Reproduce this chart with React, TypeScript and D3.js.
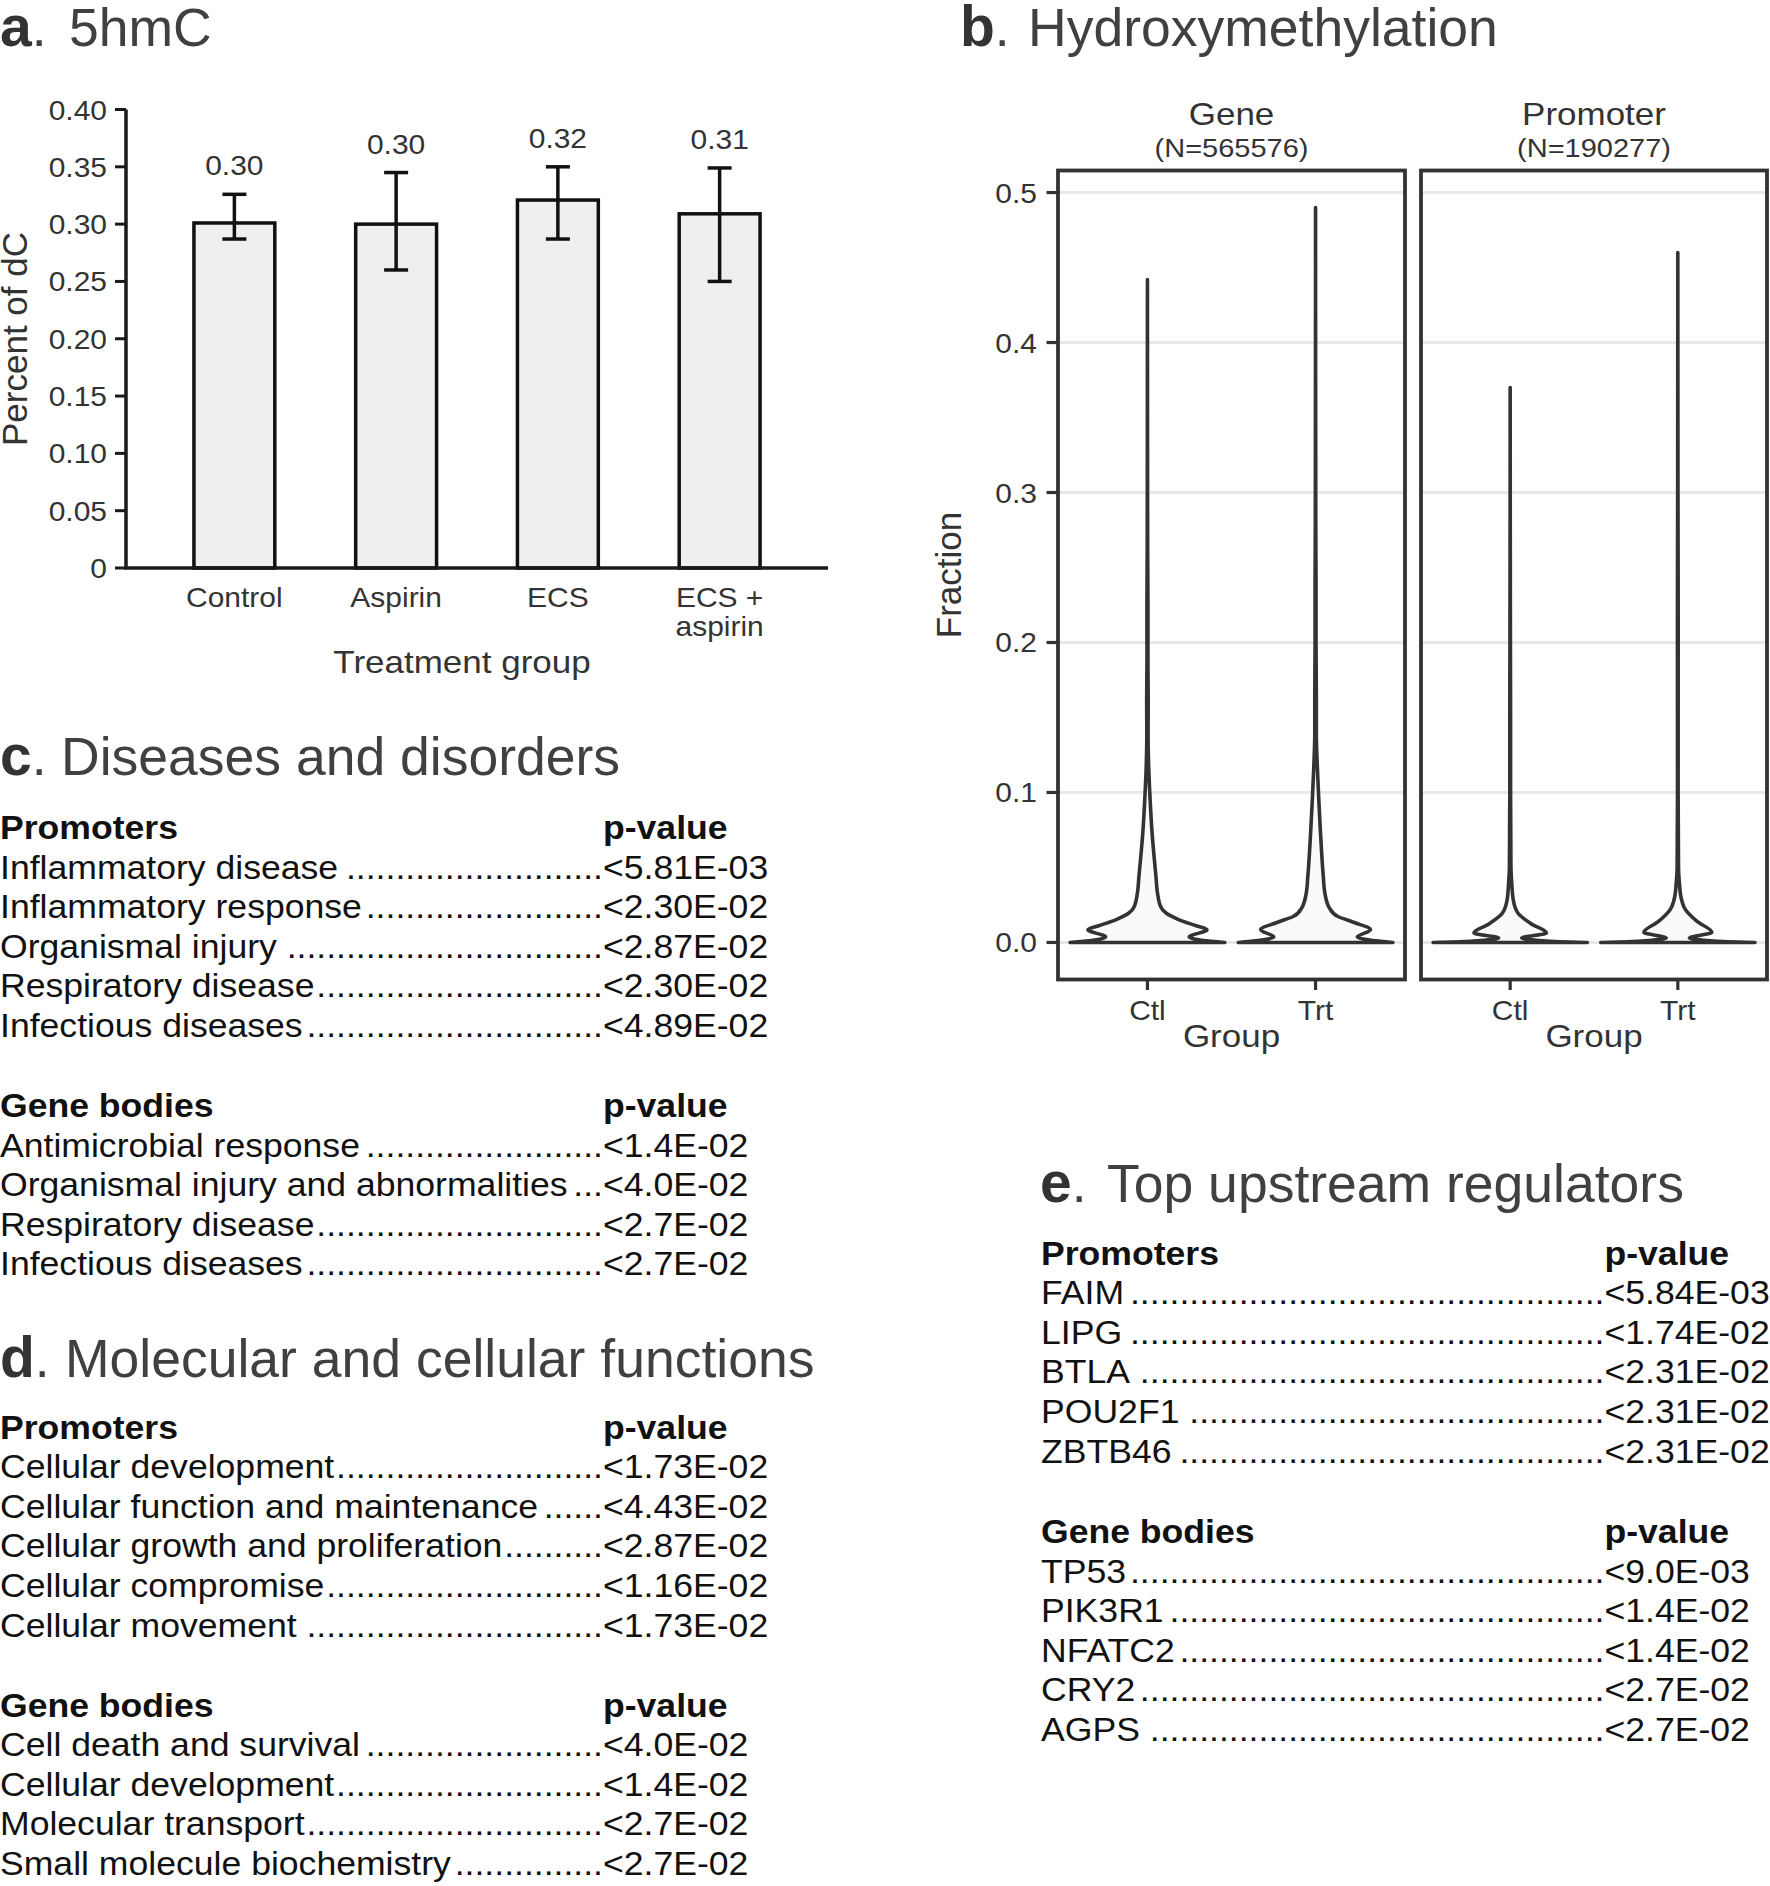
import React from "react";
import * as d3 from "d3";

const FONT = "'Liberation Sans', Arial, Helvetica, sans-serif";
const SY = 0.9;
const TSY = 0.92;

// ---------- Panel a data ----------
const treatmentGroups = ["Control", "Aspirin", "ECS", "ECS + aspirin"];
const groupLabelLines = [["Control"], ["Aspirin"], ["ECS"], ["ECS +", "aspirin"]];
const meanPct = [0.301, 0.3, 0.321, 0.309];
const errLow = [0.287, 0.26, 0.287, 0.25];
const errHigh = [0.326, 0.345, 0.35, 0.349];
const meanLabels = ["0.30", "0.30", "0.32", "0.31"];
const aTickValues = [0, 0.05, 0.1, 0.15, 0.2, 0.25, 0.3, 0.35, 0.4];
const aTickLabels = ["0", "0.05", "0.10", "0.15", "0.20", "0.25", "0.30", "0.35", "0.40"];

// ---------- Panel b data ----------
const facets = ["Gene", "Promoter"];
const facetN = ["(N=565576)", "(N=190277)"];
const groups = ["Ctl", "Trt"];
const bTickValues = [0, 0.1, 0.2, 0.3, 0.4, 0.5];
const bTickLabels = ["0.0", "0.1", "0.2", "0.3", "0.4", "0.5"];
// [fraction, relative density width]
const geneCtl: [number, number][] = [
  [0, 1.0], [0.0013, 0.72], [0.0036, 0.54], [0.0085, 0.77], [0.0111, 0.63], [0.0151, 0.41],
  [0.0196, 0.24], [0.024, 0.17], [0.033, 0.13], [0.044, 0.11], [0.073, 0.06], [0.095, 0.035],
  [0.117, 0.016], [0.14, 0.008], [0.16, 0.01], [0.19, 0.006], [0.22, 0.007], [0.26, 0.003], [0.35, 0.001], [0.442, 0],
];
const geneTrt: [number, number][] = [
  [0, 1.0], [0.0013, 0.74], [0.0036, 0.54], [0.0085, 0.71], [0.0133, 0.5], [0.0173, 0.29],
  [0.0229, 0.18], [0.033, 0.12], [0.044, 0.1], [0.073, 0.064], [0.095, 0.042], [0.117, 0.023],
  [0.14, 0.01], [0.165, 0.01], [0.2, 0.006], [0.24, 0.006], [0.28, 0.003], [0.38, 0.001], [0.49, 0],
];
const promoterCtl: [number, number][] = [
  [0, 1.0], [0.0005, 0.66], [0.0015, 0.34], [0.0029, 0.15], [0.0063, 0.47], [0.0125, 0.27],
  [0.0196, 0.1], [0.0284, 0.04], [0.04, 0.02], [0.05, 0.01], [0.1, 0.005], [0.15, 0.005], [0.2, 0.003], [0.37, 0],
];
const promoterTrt: [number, number][] = [
  [0, 1.0], [0.0005, 0.66], [0.0015, 0.34], [0.0029, 0.15], [0.0067, 0.44], [0.014, 0.25],
  [0.0218, 0.1], [0.0306, 0.04], [0.04, 0.02], [0.05, 0.009], [0.1, 0.004], [0.21, 0.005], [0.3, 0.002], [0.46, 0],
];
const violinData = [
  [geneCtl, geneTrt],
  [promoterCtl, promoterTrt],
];

// ---------- Tables ----------
const cPromoterTerms = ["Inflammatory disease", "Inflammatory response", "Organismal injury", "Respiratory disease", "Infectious diseases"];
const cPromoterP = ["<5.81E-03", "<2.30E-02", "<2.87E-02", "<2.30E-02", "<4.89E-02"];
const cGeneTerms = ["Antimicrobial response", "Organismal injury and abnormalities", "Respiratory disease", "Infectious diseases"];
const cGeneP = ["<1.4E-02", "<4.0E-02", "<2.7E-02", "<2.7E-02"];
const dPromoterTerms = ["Cellular development", "Cellular function and maintenance", "Cellular growth and proliferation", "Cellular compromise", "Cellular movement"];
const dPromoterP = ["<1.73E-02", "<4.43E-02", "<2.87E-02", "<1.16E-02", "<1.73E-02"];
const dGeneTerms = ["Cell death and survival", "Cellular development", "Molecular transport", "Small molecule biochemistry"];
const dGeneP = ["<4.0E-02", "<1.4E-02", "<2.7E-02", "<2.7E-02"];
const ePromoterTerms = ["FAIM", "LIPG", "BTLA", "POU2F1", "ZBTB46"];
const ePromoterP = ["<5.84E-03", "<1.74E-02", "<2.31E-02", "<2.31E-02", "<2.31E-02"];
const eGeneTerms = ["TP53", "PIK3R1", "NFATC2", "CRY2", "AGPS"];
const eGeneP = ["<9.0E-03", "<1.4E-02", "<1.4E-02", "<2.7E-02", "<2.7E-02"];

// ---------- helpers ----------
let ctx: CanvasRenderingContext2D | null = null;
function measure(s: string, size: number, weight = 400) {
  if (!ctx) ctx = document.createElement("canvas").getContext("2d");
  if (!ctx) return s.length * size * 0.5;
  ctx.font = `${weight} ${size}px 'Liberation Sans', Arial, sans-serif`;
  return ctx.measureText(s).width;
}

function T({ x, y, size, children, anchor = "start", weight = 400, fill = "#333", sy = SY, rotate = 0 }: any) {
  const tr = `translate(${x},${y})` + (rotate ? ` rotate(${rotate})` : "") + (sy !== 1 ? ` scale(1,${sy})` : "");
  return (
    <text transform={tr} fontSize={size} textAnchor={anchor} fontWeight={weight} fill={fill} fontFamily={FONT}>
      {children}
    </text>
  );
}

function Title({ x, tx, y, letter, text }: any) {
  return (
    <g>
      <text x={x} y={y} fontFamily={FONT}>
        <tspan fontWeight={700} fontSize={57} fill="#333">{letter}</tspan>
        <tspan fontSize={53.5} fill="#404040">.</tspan>
      </text>
      <text x={tx} y={y} fontFamily={FONT} fontSize={53.5} fill="#404040">{text}</text>
    </g>
  );
}

const ROW = 39.6;
const TS = 35.6;

function Table({ x, valueX, y0, header, terms, pvals }: any) {
  const dotW = measure(".", TS);
  return (
    <g>
      <T x={x} y={y0} size={TS} weight={700} fill="#111" sy={TSY}>{header}</T>
      <T x={valueX} y={y0} size={TS} weight={700} fill="#111" sy={TSY}>p-value</T>
      {terms.map((t: string, i: number) => {
        const y = y0 + (i + 1) * ROW;
        const w = measure(t, TS);
        const n = Math.max(0, Math.floor((valueX - x - w - 1) / dotW));
        return (
          <g key={t + i}>
            <T x={x} y={y} size={TS} fill="#111" sy={TSY}>{t}</T>
            <T x={valueX} y={y} size={TS} anchor="end" fill="#111" sy={TSY}>{".".repeat(n)}</T>
            <T x={valueX} y={y} size={TS} fill="#111" sy={TSY}>{pvals[i]}</T>
          </g>
        );
      })}
    </g>
  );
}

function PanelA() {
  const x = d3.scaleBand().domain(treatmentGroups).range([126, 828]).paddingInner(0.5).paddingOuter(0.42);
  const y = d3.scaleLinear().domain([0, 0.4]).range([568, 109.5]);
  const bw = x.bandwidth();
  const capW = 24;
  return (
    <g>
      {treatmentGroups.map((g, i) => {
        const cx = (x(g) as number) + bw / 2;
        return (
          <g key={g}>
            <rect x={x(g)} y={y(meanPct[i])} width={bw} height={y(0) - y(meanPct[i])} fill="#efefef" stroke="#111" strokeWidth={3.5} />
            <line x1={cx} x2={cx} y1={y(errLow[i])} y2={y(errHigh[i])} stroke="#111" strokeWidth={3.5} />
            <line x1={cx - capW / 2} x2={cx + capW / 2} y1={y(errLow[i])} y2={y(errLow[i])} stroke="#111" strokeWidth={3.5} />
            <line x1={cx - capW / 2} x2={cx + capW / 2} y1={y(errHigh[i])} y2={y(errHigh[i])} stroke="#111" strokeWidth={3.5} />
            <T x={cx} y={y(errHigh[i]) - 19} size={30} anchor="middle">{meanLabels[i]}</T>
            {groupLabelLines[i].map((ln, j) => (
              <T key={ln} x={cx} y={607 + j * 29} size={30} anchor="middle">{ln}</T>
            ))}
          </g>
        );
      })}
      <path d={`M126,${y(0.4)}V${y(0)}H828`} fill="none" stroke="#1a1a1a" strokeWidth={3.5} />
      {aTickValues.map((v, i) => (
        <g key={v}>
          <line x1={115} x2={126} y1={y(v)} y2={y(v)} stroke="#1a1a1a" strokeWidth={3} />
          <T x={107} y={y(v) + 10} size={30} anchor="end">{aTickLabels[i]}</T>
        </g>
      ))}
      <T x={462} y={673} size={35} anchor="middle">Treatment group</T>
      <T x={27} y={339} size={35} anchor="middle" rotate={-90} sy={1}>Percent of dC</T>
    </g>
  );
}

function PanelB() {
  const y = d3.scaleLinear().domain([-0.0247, 0.5147]).range([979.5, 170.5]);
  const panels = [
    { x0: 1058, x1: 1405 },
    { x0: 1421, x1: 1767 },
  ];
  return (
    <g>
      {panels.map((p, fi) => {
        const xs = d3.scalePoint().domain(groups).range([p.x0, p.x1]).padding(0.532);
        const hw = 0.46 * xs.step();
        const cxp = (p.x0 + p.x1) / 2;
        return (
          <g key={fi}>
            {bTickValues.map((v) => (
              <line key={v} x1={p.x0} x2={p.x1} y1={y(v)} y2={y(v)} stroke="#e8e8e8" strokeWidth={3} />
            ))}
            {groups.map((g, gi) => {
              const cx = xs(g) as number;
              const area = d3
                .area<[number, number]>()
                .y((d) => y(d[0]))
                .x0((d) => cx - d[1] * hw)
                .x1((d) => cx + d[1] * hw)
                .curve(d3.curveMonotoneY);
              return (
                <g key={g}>
                  <path d={area(violinData[fi][gi]) || ""} fill="#fafafa" stroke="#333" strokeWidth={3.6} strokeLinejoin="round" />
                  <line x1={cx} x2={cx} y1={979.5} y2={990} stroke="#333" strokeWidth={3.2} />
                  <T x={cx} y={1019.7} size={30} anchor="middle">{g}</T>
                </g>
              );
            })}
            <rect x={p.x0} y={170.5} width={p.x1 - p.x0} height={979.5 - 170.5} fill="none" stroke="#333" strokeWidth={3.8} />
            <T x={cxp} y={125} size={35} anchor="middle">{facets[fi]}</T>
            <T x={cxp} y={157} size={29} anchor="middle">{facetN[fi]}</T>
            <T x={cxp} y={1047} size={35} anchor="middle">Group</T>
          </g>
        );
      })}
      {bTickValues.map((v, i) => (
        <g key={v}>
          <line x1={1046.5} x2={1058} y1={y(v)} y2={y(v)} stroke="#333" strokeWidth={3.2} />
          <T x={1037} y={y(v) + 10} size={30} anchor="end">{bTickLabels[i]}</T>
        </g>
      ))}
      <T x={961} y={575} size={35} anchor="middle" rotate={-90} sy={1}>Fraction</T>
    </g>
  );
}

export default function App() {
  return (
    <svg
      width={1770}
      height={1886}
      viewBox="0 0 1770 1886"
      style={{ position: "absolute", left: 0, top: 0, background: "#fff" }}
    >
      <rect x={0} y={0} width={1770} height={1886} fill="#fff" />
      <Title x={0} tx={69} y={46} letter="a" text="5hmC" />
      <Title x={960} tx={1028} y={46} letter="b" text="Hydroxymethylation" />
      <Title x={0} tx={61} y={775} letter="c" text="Diseases and disorders" />
      <Title x={0} tx={65} y={1377} letter="d" text="Molecular and cellular functions" />
      <Title x={1040} tx={1107} y={1201.5} letter="e" text="Top upstream regulators" />
      <PanelA />
      <PanelB />
      <Table x={0} valueX={603} y0={839} header="Promoters" terms={cPromoterTerms} pvals={cPromoterP} />
      <Table x={0} valueX={603} y0={1117} header="Gene bodies" terms={cGeneTerms} pvals={cGeneP} />
      <Table x={0} valueX={603} y0={1438.5} header="Promoters" terms={dPromoterTerms} pvals={dPromoterP} />
      <Table x={0} valueX={603} y0={1716.5} header="Gene bodies" terms={dGeneTerms} pvals={dGeneP} />
      <Table x={1041} valueX={1604.5} y0={1264.5} header="Promoters" terms={ePromoterTerms} pvals={ePromoterP} />
      <Table x={1041} valueX={1604.5} y0={1543} header="Gene bodies" terms={eGeneTerms} pvals={eGeneP} />
    </svg>
  );
}
